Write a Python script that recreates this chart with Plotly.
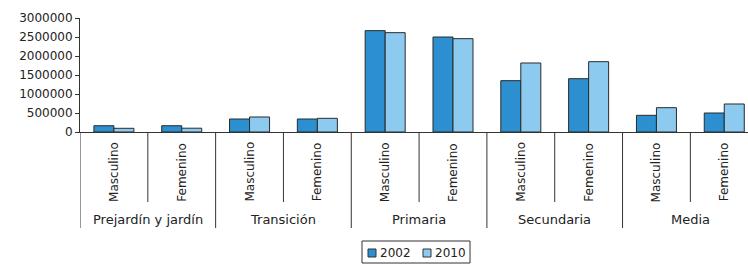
import plotly.graph_objects as go

groups = ["Prejardín y jardín", "Transición", "Primaria", "Secundaria", "Media"]
sexes = ["Masculino", "Femenino"]
years = ["2002", "2010"]
v2002 = [165000, 165000, 342000, 342000, 2667000, 2500000, 1351000, 1403000, 439000, 500000]
v2010 = [97000, 100000, 395000, 360000, 2614000, 2456000, 1816000, 1851000, 640000, 737000]
ytick_vals = [0, 500000, 1000000, 1500000, 2000000, 2500000, 3000000]

cats = [f"{g}|{s}" for g in groups for s in sexes]

FONT = "DejaVu Sans"
TXT = "#222222"
COLORS = ["#2b8fd0", "#8dcaf0"]
EDGE = "#2a2a2a"

W, H = 748, 264
L, R, T, B = 80, 0, 18, 132
plot_w = W - L - R
plot_h = H - T - B


def py(px):
    return (H - B - px) / plot_h


def px_x(px):
    return (px - L) / plot_w


fig = go.Figure()
for name, vals, col in zip(years, [v2002, v2010], COLORS):
    fig.add_trace(go.Bar(x=cats, y=vals, name=name, showlegend=False,
                         marker=dict(color=col, line=dict(color=EDGE, width=1))))

shapes = []
annotations = []
n = len(cats)
for b in range(n + 1):
    pos = b - 0.5
    group_edge = (b % len(sexes) == 0)
    shapes.append(dict(type="line", xref="x", yref="paper", x0=pos, x1=pos,
                       y0=0, y1=py(228) if group_edge else py(202),
                       line=dict(color="#333333", width=1)))
for i, c in enumerate(cats):
    s = c.split("|")[1]
    annotations.append(dict(x=i, y=py(172), xref="x", yref="paper", text=s, textangle=-90,
                            showarrow=False, font=dict(family=FONT, size=12, color=TXT),
                            xanchor="center", yanchor="middle"))
for gi, g in enumerate(groups):
    center = gi * len(sexes) + (len(sexes) - 1) / 2
    annotations.append(dict(x=center, y=py(219), xref="x", yref="paper", text=g,
                            showarrow=False, font=dict(family=FONT, size=13, color=TXT),
                            xanchor="center", yanchor="middle"))

# legend (drawn as box + swatches + text)
shapes.append(dict(type="rect", xref="paper", yref="paper",
                   x0=px_x(362), x1=px_x(470), y0=py(241), y1=py(263),
                   line=dict(color="#333333", width=1), fillcolor="white"))
item_x = [368, 423]
for x0, name, col in zip(item_x, years, COLORS):
    shapes.append(dict(type="rect", xref="paper", yref="paper",
                       x0=px_x(x0), x1=px_x(x0 + 8), y0=py(249), y1=py(257),
                       line=dict(color="#333333", width=1), fillcolor=col))
    annotations.append(dict(x=px_x(x0 + 10), y=py(253), xref="paper", yref="paper", text=name,
                            showarrow=False, font=dict(family=FONT, size=12, color=TXT),
                            xanchor="left", yanchor="middle", xshift=0))

fig.update_layout(
    template="none",
    width=W, height=H,
    margin=dict(l=L, r=R, t=T, b=B, pad=0, autoexpand=False),
    paper_bgcolor="white", plot_bgcolor="white",
    barmode="group", bargap=0.41, bargroupgap=0,
    font=dict(family=FONT, size=12, color=TXT),
    showlegend=False,
    xaxis=dict(type="category", categoryorder="array", categoryarray=cats,
               range=[-0.5, 9.35], showticklabels=False, ticks="", automargin=False,
               showline=True, linecolor="#333333", linewidth=1, showgrid=False, zeroline=False),
    yaxis=dict(range=[0, 3000000], tickvals=ytick_vals, ticktext=[str(v) for v in ytick_vals],
               ticks="outside", ticklen=4, tickcolor="#333333", automargin=False,
               showline=True, linecolor="#333333", linewidth=1, showgrid=False, zeroline=False,
               tickfont=dict(family=FONT, size=12, color=TXT)),
    shapes=shapes,
    annotations=annotations,
)

fig.write_html("out.html", config={"displayModeBar": False},
               post_script="document.body.style.margin='0';document.body.style.overflow='hidden';")
